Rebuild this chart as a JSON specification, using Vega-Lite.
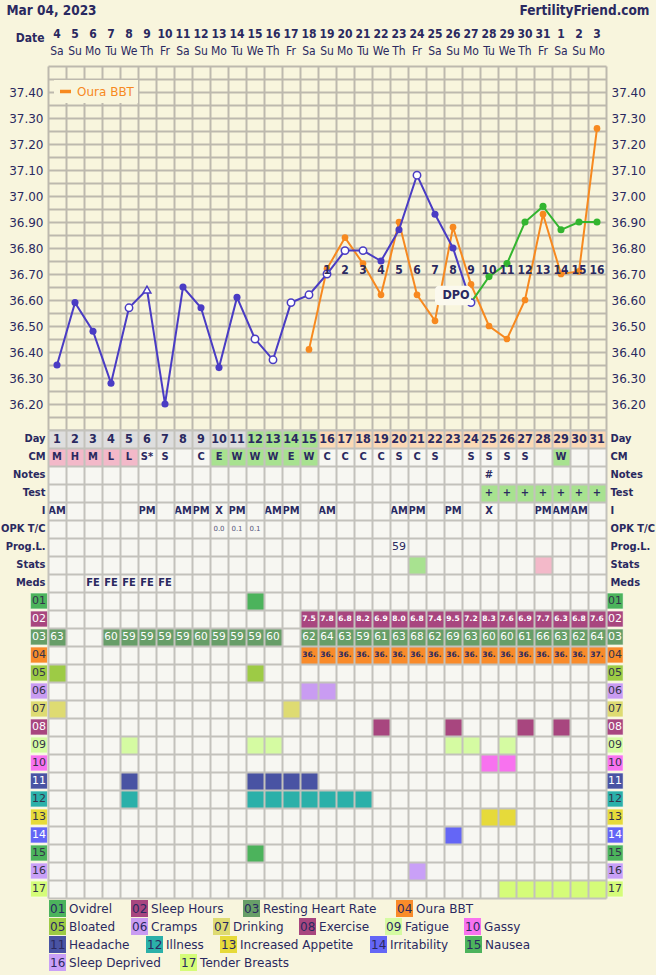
{
"$schema": "https://vega.github.io/schema/vega-lite/v6.json",
"width": 594, "height": 832,
"autosize": {"type": "none"},
"padding": {"left": 30, "top": 66, "right": 32, "bottom": 77},
"background": "#f8f5dd",
"config": {"view": {"stroke": null}, "font": "DejaVu Sans"},
"datasets": {
"days": [
{"day":1,"phase":"pre"},{"day":2,"phase":"pre"},{"day":3,"phase":"pre"},{"day":4,"phase":"pre"},{"day":5,"phase":"pre"},{"day":6,"phase":"pre"},{"day":7,"phase":"pre"},{"day":8,"phase":"pre"},{"day":9,"phase":"pre"},{"day":10,"phase":"pre"},{"day":11,"phase":"pre"},
{"day":12,"phase":"fert"},{"day":13,"phase":"fert"},{"day":14,"phase":"fert"},{"day":15,"phase":"fert"},
{"day":16,"phase":"post","dpo":1},{"day":17,"phase":"post","dpo":2},{"day":18,"phase":"post","dpo":3},{"day":19,"phase":"post","dpo":4},{"day":20,"phase":"post","dpo":5},{"day":21,"phase":"post","dpo":6},{"day":22,"phase":"post","dpo":7},{"day":23,"phase":"post","dpo":8},{"day":24,"phase":"post","dpo":9},{"day":25,"phase":"post","dpo":10},{"day":26,"phase":"post","dpo":11},{"day":27,"phase":"post","dpo":12},{"day":28,"phase":"post","dpo":13},{"day":29,"phase":"post","dpo":14},{"day":30,"phase":"post","dpo":15},{"day":31,"phase":"post","dpo":16}
],
"bbt": [
{"day":1,"temp":36.35,"marker":"filled"},{"day":2,"temp":36.59,"marker":"filled"},{"day":3,"temp":36.48,"marker":"filled"},{"day":4,"temp":36.28,"marker":"filled"},{"day":5,"temp":36.57,"marker":"open"},{"day":6,"temp":36.64,"marker":"triangle"},{"day":7,"temp":36.2,"marker":"filled"},{"day":8,"temp":36.65,"marker":"filled"},{"day":9,"temp":36.57,"marker":"filled"},{"day":10,"temp":36.34,"marker":"filled"},{"day":11,"temp":36.61,"marker":"filled"},{"day":12,"temp":36.45,"marker":"open"},{"day":13,"temp":36.37,"marker":"open"},{"day":14,"temp":36.59,"marker":"open"},{"day":15,"temp":36.62,"marker":"open"},{"day":16,"temp":36.7,"marker":"open"},{"day":17,"temp":36.79,"marker":"open"},{"day":18,"temp":36.79,"marker":"open"},{"day":19,"temp":36.75,"marker":"filled"},{"day":20,"temp":36.87,"marker":"filled"},{"day":21,"temp":37.08,"marker":"open"},{"day":22,"temp":36.93,"marker":"filled"},{"day":23,"temp":36.8,"marker":"filled"},{"day":24,"temp":36.59,"marker":"open"},
{"day":25,"temp":36.69,"marker":"green"},{"day":26,"temp":36.74,"marker":"green"},{"day":27,"temp":36.9,"marker":"green"},{"day":28,"temp":36.96,"marker":"green"},{"day":29,"temp":36.87,"marker":"green"},{"day":30,"temp":36.9,"marker":"green"},{"day":31,"temp":36.9,"marker":"green"}
],
"oura": [
{"day":15,"temp":36.41},{"day":16,"temp":36.72},{"day":17,"temp":36.84},{"day":18,"temp":36.74},{"day":19,"temp":36.62},{"day":20,"temp":36.9},{"day":21,"temp":36.62},{"day":22,"temp":36.52},{"day":23,"temp":36.88},{"day":24,"temp":36.66},{"day":25,"temp":36.5},{"day":26,"temp":36.45},{"day":27,"temp":36.6},{"day":28,"temp":36.93},{"day":29,"temp":36.7},{"day":30,"temp":36.71},{"day":31,"temp":37.26}
],
"dpoLabel": [{"label":"DPO"}],
"notes": [
{"day":1,"row":"CM","t":"M"},{"day":2,"row":"CM","t":"H"},{"day":3,"row":"CM","t":"M"},{"day":4,"row":"CM","t":"L"},{"day":5,"row":"CM","t":"L"},{"day":6,"row":"CM","t":"S*"},{"day":7,"row":"CM","t":"S"},{"day":9,"row":"CM","t":"C"},{"day":10,"row":"CM","t":"E"},{"day":11,"row":"CM","t":"W"},{"day":12,"row":"CM","t":"W"},{"day":13,"row":"CM","t":"W"},{"day":14,"row":"CM","t":"E"},{"day":15,"row":"CM","t":"W"},{"day":16,"row":"CM","t":"C"},{"day":17,"row":"CM","t":"C"},{"day":18,"row":"CM","t":"C"},{"day":19,"row":"CM","t":"C"},{"day":20,"row":"CM","t":"S"},{"day":21,"row":"CM","t":"C"},{"day":22,"row":"CM","t":"S"},{"day":24,"row":"CM","t":"S"},{"day":25,"row":"CM","t":"S"},{"day":26,"row":"CM","t":"S"},{"day":27,"row":"CM","t":"S"},{"day":29,"row":"CM","t":"W"},
{"day":25,"row":"Notes","t":"#"},
{"day":25,"row":"Test","t":"+"},{"day":26,"row":"Test","t":"+"},{"day":27,"row":"Test","t":"+"},{"day":28,"row":"Test","t":"+"},{"day":29,"row":"Test","t":"+"},{"day":30,"row":"Test","t":"+"},{"day":31,"row":"Test","t":"+"},
{"day":1,"row":"I","t":"AM"},{"day":6,"row":"I","t":"PM"},{"day":8,"row":"I","t":"AM"},{"day":9,"row":"I","t":"PM"},{"day":10,"row":"I","t":"X"},{"day":11,"row":"I","t":"PM"},{"day":13,"row":"I","t":"AM"},{"day":14,"row":"I","t":"PM"},{"day":16,"row":"I","t":"AM"},{"day":20,"row":"I","t":"AM"},{"day":21,"row":"I","t":"PM"},{"day":23,"row":"I","t":"PM"},{"day":25,"row":"I","t":"X"},{"day":28,"row":"I","t":"PM"},{"day":29,"row":"I","t":"AM"},{"day":30,"row":"I","t":"AM"},
{"day":10,"row":"OPK T/C","t":"0.0"},{"day":11,"row":"OPK T/C","t":"0.1"},{"day":12,"row":"OPK T/C","t":"0.1"},
{"day":20,"row":"Prog.L.","t":"59"},
{"day":3,"row":"Meds","t":"FE"},{"day":4,"row":"Meds","t":"FE"},{"day":5,"row":"Meds","t":"FE"},{"day":6,"row":"Meds","t":"FE"},{"day":7,"row":"Meds","t":"FE"}
],
"bg": [
{"day":1,"row":"CM","kind":"pink"},{"day":2,"row":"CM","kind":"pink"},{"day":3,"row":"CM","kind":"pink"},{"day":4,"row":"CM","kind":"pink"},{"day":5,"row":"CM","kind":"pink"},
{"day":10,"row":"CM","kind":"green"},{"day":11,"row":"CM","kind":"green"},{"day":12,"row":"CM","kind":"green"},{"day":13,"row":"CM","kind":"green"},{"day":14,"row":"CM","kind":"green"},{"day":15,"row":"CM","kind":"green"},{"day":29,"row":"CM","kind":"green"},
{"day":25,"row":"Test","kind":"green"},{"day":26,"row":"Test","kind":"green"},{"day":27,"row":"Test","kind":"green"},{"day":28,"row":"Test","kind":"green"},{"day":29,"row":"Test","kind":"green"},{"day":30,"row":"Test","kind":"green"},{"day":31,"row":"Test","kind":"green"},
{"day":21,"row":"Stats","kind":"green"},{"day":28,"row":"Stats","kind":"pink"}
],
"sym": [
{"day":12,"row":"01"},
{"day":15,"row":"02","v":"7.5"},{"day":16,"row":"02","v":"7.8"},{"day":17,"row":"02","v":"6.8"},{"day":18,"row":"02","v":"8.2"},{"day":19,"row":"02","v":"6.9"},{"day":20,"row":"02","v":"8.0"},{"day":21,"row":"02","v":"6.8"},{"day":22,"row":"02","v":"7.4"},{"day":23,"row":"02","v":"9.5"},{"day":24,"row":"02","v":"7.2"},{"day":25,"row":"02","v":"8.3"},{"day":26,"row":"02","v":"7.6"},{"day":27,"row":"02","v":"6.9"},{"day":28,"row":"02","v":"7.7"},{"day":29,"row":"02","v":"6.3"},{"day":30,"row":"02","v":"6.8"},{"day":31,"row":"02","v":"7.6"},
{"day":1,"row":"03","v":"63"},{"day":4,"row":"03","v":"60"},{"day":5,"row":"03","v":"59"},{"day":6,"row":"03","v":"59"},{"day":7,"row":"03","v":"59"},{"day":8,"row":"03","v":"59"},{"day":9,"row":"03","v":"60"},{"day":10,"row":"03","v":"59"},{"day":11,"row":"03","v":"59"},{"day":12,"row":"03","v":"59"},{"day":13,"row":"03","v":"60"},{"day":15,"row":"03","v":"62"},{"day":16,"row":"03","v":"64"},{"day":17,"row":"03","v":"63"},{"day":18,"row":"03","v":"59"},{"day":19,"row":"03","v":"61"},{"day":20,"row":"03","v":"63"},{"day":21,"row":"03","v":"68"},{"day":22,"row":"03","v":"62"},{"day":23,"row":"03","v":"69"},{"day":24,"row":"03","v":"63"},{"day":25,"row":"03","v":"60"},{"day":26,"row":"03","v":"60"},{"day":27,"row":"03","v":"61"},{"day":28,"row":"03","v":"66"},{"day":29,"row":"03","v":"63"},{"day":30,"row":"03","v":"62"},{"day":31,"row":"03","v":"64"},
{"day":15,"row":"04","v":"36."},{"day":16,"row":"04","v":"36."},{"day":17,"row":"04","v":"36."},{"day":18,"row":"04","v":"36."},{"day":19,"row":"04","v":"36."},{"day":20,"row":"04","v":"36."},{"day":21,"row":"04","v":"36."},{"day":22,"row":"04","v":"36."},{"day":23,"row":"04","v":"36."},{"day":24,"row":"04","v":"36."},{"day":25,"row":"04","v":"36."},{"day":26,"row":"04","v":"36."},{"day":27,"row":"04","v":"36."},{"day":28,"row":"04","v":"36."},{"day":29,"row":"04","v":"36."},{"day":30,"row":"04","v":"36."},{"day":31,"row":"04","v":"37."},
{"day":1,"row":"05"},{"day":12,"row":"05"},
{"day":15,"row":"06"},{"day":16,"row":"06"},
{"day":1,"row":"07"},{"day":14,"row":"07"},
{"day":19,"row":"08"},{"day":23,"row":"08"},{"day":27,"row":"08"},{"day":29,"row":"08"},
{"day":5,"row":"09"},{"day":12,"row":"09"},{"day":13,"row":"09"},{"day":23,"row":"09"},{"day":24,"row":"09"},{"day":26,"row":"09"},
{"day":25,"row":"10"},{"day":26,"row":"10"},
{"day":5,"row":"11"},{"day":12,"row":"11"},{"day":13,"row":"11"},{"day":14,"row":"11"},{"day":15,"row":"11"},
{"day":5,"row":"12"},{"day":12,"row":"12"},{"day":13,"row":"12"},{"day":14,"row":"12"},{"day":15,"row":"12"},{"day":16,"row":"12"},{"day":17,"row":"12"},{"day":18,"row":"12"},
{"day":25,"row":"13"},{"day":26,"row":"13"},
{"day":23,"row":"14"},
{"day":12,"row":"15"},
{"day":21,"row":"16"},
{"day":26,"row":"17"},{"day":27,"row":"17"},{"day":28,"row":"17"},{"day":29,"row":"17"},{"day":30,"row":"17"},{"day":31,"row":"17"}
],
"syms": [
{"row":"01","name":"Ovidrel"},{"row":"02","name":"Sleep Hours"},{"row":"03","name":"Resting Heart Rate"},{"row":"04","name":"Oura BBT"},{"row":"05","name":"Bloated"},{"row":"06","name":"Cramps"},{"row":"07","name":"Drinking"},{"row":"08","name":"Exercise"},{"row":"09","name":"Fatigue"},{"row":"10","name":"Gassy"},{"row":"11","name":"Headache"},{"row":"12","name":"Illness"},{"row":"13","name":"Increased Appetite"},{"row":"14","name":"Irritability"},{"row":"15","name":"Nausea"},{"row":"16","name":"Sleep Deprived"},{"row":"17","name":"Tender Breasts"}
]
},
"layer": [
{
"layer": [
{"mark": {"type": "rule", "color": "#dc5a5a", "strokeWidth": 2.6, "strokeDash": [5, 3]},
 "encoding": {
  "x": {"datum": 1, "type": "ordinal", "bandPosition": 0, "scale": {"type": "band", "domain": [1,2,3,4,5,6,7,8,9,10,11,12,13,14,15,16,17,18,19,20,21,22,23,24,25,26,27,28,29,30,31], "range": [18, 576], "paddingInner": 0, "paddingOuter": 0}, "axis": null},
  "x2": {"datum": 31, "bandPosition": 1},
  "y": {"datum": 36.675, "type": "quantitative", "scale": {"domain": [36.1, 37.5], "range": [364, 0], "zero": false, "nice": false},
   "axis": {"orient": "left", "offset": -18, "values": [36.1,36.15,36.2,36.25,36.3,36.35,36.4,36.45,36.5,36.55,36.6,36.65,36.7,36.75,36.8,36.85,36.9,36.95,37,37.05,37.1,37.15,37.2,37.25,37.3,37.35,37.4,37.45,37.5],
    "labelExpr": "datum.value > 36.15 && datum.value < 37.45 && round(datum.value*100) % 10 == 0 ? format(datum.value, '.2f') : ''",
    "grid": true, "gridColor": "#bdb9ae", "gridWidth": 2, "ticks": false, "domain": false, "labelPadding": 5, "labelFont": "DejaVu Sans", "labelFontSize": 12, "labelColor": "#2a2960", "title": null}}
 }},
{"mark": {"type": "rule", "color": "#dc5a5a", "strokeWidth": 2.6, "strokeDash": [5, 3]},
 "encoding": {
  "x": {"datum": 15, "type": "ordinal", "bandPosition": 0.5, "scale": {"type": "band", "domain": [1,2,3,4,5,6,7,8,9,10,11,12,13,14,15,16,17,18,19,20,21,22,23,24,25,26,27,28,29,30,31], "range": [18, 576], "paddingInner": 0, "paddingOuter": 0}, "axis": null},
  "y": {"datum": 37.5, "type": "quantitative", "scale": {"domain": [36.1, 37.5], "range": [364, 0], "zero": false, "nice": false},
   "axis": {"orient": "right", "offset": -18, "values": [36.2,36.3,36.4,36.5,36.6,36.7,36.8,36.9,37,37.1,37.2,37.3,37.4], "format": ".2f", "grid": false, "ticks": false, "domain": true, "domainColor": "#bdb9ae", "domainWidth": 2, "labelPadding": 5, "labelFont": "DejaVu Sans", "labelFontSize": 12, "labelColor": "#2a2960", "title": null}},
  "y2": {"datum": 36.1}
 }},
{"data": {"name": "oura"}, "mark": {"type": "line", "strokeWidth": 2},
 "encoding": {
  "x": {"field": "day", "type": "ordinal", "scale": {"type": "band", "domain": [1,2,3,4,5,6,7,8,9,10,11,12,13,14,15,16,17,18,19,20,21,22,23,24,25,26,27,28,29,30,31], "range": [18, 576], "paddingInner": 0, "paddingOuter": 0},
   "axis": {"orient": "top", "values": [1,2,3,4,5,6,7,8,9,10,11,12,13,14,15,16,17,18,19,20,21,22,23,24,25,26,27,28,29,30,31], "bandPosition": 0, "grid": true, "gridColor": "#bdb9ae", "gridWidth": 2, "labels": false, "ticks": false, "domain": false,
    "title": "Mar 04, 2023", "titleX": -24, "titleY": -56, "titleAlign": "left", "titleBaseline": "middle", "titleFont": "DejaVu Sans Condensed, DejaVu Sans", "titleFontSize": 13.5, "titleFontWeight": "bold", "titleColor": "#2a2960"}},
  "y": {"field": "temp", "type": "quantitative", "scale": {"domain": [36.1, 37.5], "range": [364, 0], "zero": false, "nice": false}, "axis": null},
  "color": {"datum": "Oura BBT", "type": "nominal", "scale": {"range": ["#f7891f"]},
   "legend": {"orient": "none", "legendX": 24, "legendY": 14, "title": null, "symbolType": "stroke", "symbolStrokeWidth": 3.5, "symbolSize": 120, "labelFont": "DejaVu Sans", "labelFontSize": 12, "labelColor": "#f7891f", "labelOffset": 4, "fillColor": "#f8f5dd", "padding": 4}}
 }},
{"data": {"name": "oura"}, "mark": {"type": "point", "filled": true, "color": "#f7891f", "size": 45, "opacity": 1},
 "encoding": {
  "x": {"field": "day", "type": "ordinal", "scale": {"type": "band", "domain": [1,2,3,4,5,6,7,8,9,10,11,12,13,14,15,16,17,18,19,20,21,22,23,24,25,26,27,28,29,30,31], "range": [18, 576], "paddingInner": 0, "paddingOuter": 0}, "axis": null},
  "y": {"field": "temp", "type": "quantitative", "scale": {"domain": [36.1, 37.5], "range": [364, 0], "zero": false, "nice": false}, "axis": null}
 }},
{"data": {"name": "bbt"}, "transform": [{"filter": "datum.day <= 24"}], "mark": {"type": "line", "color": "#4a3cc4", "strokeWidth": 2},
 "encoding": {
  "x": {"field": "day", "type": "ordinal", "scale": {"type": "band", "domain": [1,2,3,4,5,6,7,8,9,10,11,12,13,14,15,16,17,18,19,20,21,22,23,24,25,26,27,28,29,30,31], "range": [18, 576], "paddingInner": 0, "paddingOuter": 0},
   "axis": {"orient": "top", "labelExpr": "['4','5','6','7','8','9','10','11','12','13','14','15','16','17','18','19','20','21','22','23','24','25','26','27','28','29','30','31','1','2','3'][datum.value-1]",
    "labelFont": "DejaVu Sans Condensed, DejaVu Sans", "labelFontWeight": "bold", "labelFontSize": 12, "labelColor": "#2a2960", "labelBaseline": "middle", "labelPadding": 33, "labelAngle": 0, "labelOverlap": false, "ticks": false, "tickSize": 0, "domain": false, "grid": false,
    "title": "Date", "titleX": 14, "titleY": -28.5, "titleAlign": "right", "titleBaseline": "middle", "titleFont": "DejaVu Sans Condensed, DejaVu Sans", "titleFontSize": 12, "titleFontWeight": "bold", "titleColor": "#2a2960"}},
  "y": {"field": "temp", "type": "quantitative", "scale": {"domain": [36.1, 37.5], "range": [364, 0], "zero": false, "nice": false}, "axis": null}
 }},
{"data": {"name": "bbt"}, "transform": [{"filter": "datum.day >= 24"}], "mark": {"type": "line", "color": "#33b52f", "strokeWidth": 2},
 "encoding": {
  "x": {"field": "day", "type": "ordinal", "scale": {"type": "band", "domain": [1,2,3,4,5,6,7,8,9,10,11,12,13,14,15,16,17,18,19,20,21,22,23,24,25,26,27,28,29,30,31], "range": [18, 576], "paddingInner": 0, "paddingOuter": 0},
   "axis": {"orient": "top", "labelExpr": "['Sa','Su','Mo','Tu','We','Th','Fr','Sa','Su','Mo','Tu','We','Th','Fr','Sa','Su','Mo','Tu','We','Th','Fr','Sa','Su','Mo','Tu','We','Th','Fr','Sa','Su','Mo'][datum.value-1]",
    "labelFont": "DejaVu Sans Condensed, DejaVu Sans", "labelFontSize": 12, "labelColor": "#2a2960", "labelBaseline": "middle", "labelPadding": 15.5, "labelAngle": 0, "labelOverlap": false, "ticks": false, "tickSize": 0, "domain": false, "grid": false,
    "title": "FertilityFriend.com", "titleX": 619, "titleY": -56, "titleAlign": "right", "titleBaseline": "middle", "titleFont": "DejaVu Sans Condensed, DejaVu Sans", "titleFontSize": 13.5, "titleFontWeight": "bold", "titleColor": "#2a2960"}},
  "y": {"field": "temp", "type": "quantitative", "scale": {"domain": [36.1, 37.5], "range": [364, 0], "zero": false, "nice": false}, "axis": null}
 }},
{"data": {"name": "bbt"}, "transform": [{"filter": "datum.marker == 'filled'"}], "mark": {"type": "point", "filled": true, "color": "#4a3cc4", "size": 50, "opacity": 1},
 "encoding": {
  "x": {"field": "day", "type": "ordinal", "scale": {"type": "band", "domain": [1,2,3,4,5,6,7,8,9,10,11,12,13,14,15,16,17,18,19,20,21,22,23,24,25,26,27,28,29,30,31], "range": [18, 576], "paddingInner": 0, "paddingOuter": 0}, "axis": null},
  "y": {"field": "temp", "type": "quantitative", "scale": {"domain": [36.1, 37.5], "range": [364, 0], "zero": false, "nice": false}, "axis": null}
 }},
{"data": {"name": "bbt"}, "transform": [{"filter": "datum.marker == 'open'"}], "mark": {"type": "point", "filled": true, "fill": "#ffffff", "stroke": "#4a3cc4", "strokeWidth": 1.5, "size": 55, "opacity": 1},
 "encoding": {
  "x": {"field": "day", "type": "ordinal", "scale": {"type": "band", "domain": [1,2,3,4,5,6,7,8,9,10,11,12,13,14,15,16,17,18,19,20,21,22,23,24,25,26,27,28,29,30,31], "range": [18, 576], "paddingInner": 0, "paddingOuter": 0}, "axis": null},
  "y": {"field": "temp", "type": "quantitative", "scale": {"domain": [36.1, 37.5], "range": [364, 0], "zero": false, "nice": false}, "axis": null}
 }},
{"data": {"name": "bbt"}, "transform": [{"filter": "datum.marker == 'triangle'"}], "mark": {"type": "point", "shape": "triangle-up", "filled": true, "fill": "#ffffff", "stroke": "#4a3cc4", "strokeWidth": 1.5, "size": 60, "opacity": 1},
 "encoding": {
  "x": {"field": "day", "type": "ordinal", "scale": {"type": "band", "domain": [1,2,3,4,5,6,7,8,9,10,11,12,13,14,15,16,17,18,19,20,21,22,23,24,25,26,27,28,29,30,31], "range": [18, 576], "paddingInner": 0, "paddingOuter": 0}, "axis": null},
  "y": {"field": "temp", "type": "quantitative", "scale": {"domain": [36.1, 37.5], "range": [364, 0], "zero": false, "nice": false}, "axis": null}
 }},
{"data": {"name": "bbt"}, "transform": [{"filter": "datum.marker == 'green'"}], "mark": {"type": "point", "filled": true, "color": "#33b52f", "size": 50, "opacity": 1},
 "encoding": {
  "x": {"field": "day", "type": "ordinal", "scale": {"type": "band", "domain": [1,2,3,4,5,6,7,8,9,10,11,12,13,14,15,16,17,18,19,20,21,22,23,24,25,26,27,28,29,30,31], "range": [18, 576], "paddingInner": 0, "paddingOuter": 0}, "axis": null},
  "y": {"field": "temp", "type": "quantitative", "scale": {"domain": [36.1, 37.5], "range": [364, 0], "zero": false, "nice": false}, "axis": null}
 }},
{"data": {"name": "dpoLabel"}, "mark": {"type": "rect", "fill": "#fbf9ee", "cornerRadius": 4, "width": 36},
 "encoding": {
  "x": {"datum": 23, "type": "ordinal", "scale": {"type": "band", "domain": [1,2,3,4,5,6,7,8,9,10,11,12,13,14,15,16,17,18,19,20,21,22,23,24,25,26,27,28,29,30,31], "range": [18, 576], "paddingInner": 0, "paddingOuter": 0}, "axis": null},
  "y": {"datum": 36.655, "type": "quantitative", "scale": {"domain": [36.1, 37.5], "range": [364, 0], "zero": false, "nice": false}, "axis": null},
  "y2": {"datum": 36.58}
 }},
{"data": {"name": "dpoLabel"}, "mark": {"type": "text", "font": "DejaVu Sans Condensed, DejaVu Sans", "fontWeight": "bold", "fontSize": 12.5, "color": "#2a2960", "dx": 3},
 "encoding": {
  "x": {"datum": 23, "type": "ordinal", "scale": {"type": "band", "domain": [1,2,3,4,5,6,7,8,9,10,11,12,13,14,15,16,17,18,19,20,21,22,23,24,25,26,27,28,29,30,31], "range": [18, 576], "paddingInner": 0, "paddingOuter": 0}, "axis": null},
  "y": {"datum": 36.618, "type": "quantitative", "scale": {"domain": [36.1, 37.5], "range": [364, 0], "zero": false, "nice": false}, "axis": null},
  "text": {"field": "label"}
 }},
{"data": {"name": "days"}, "transform": [{"filter": "isValid(datum.dpo)"}], "mark": {"type": "text", "font": "DejaVu Sans Condensed, DejaVu Sans", "fontWeight": "bold", "fontSize": 12, "color": "#2a2960"},
 "encoding": {
  "x": {"field": "day", "type": "ordinal", "scale": {"type": "band", "domain": [1,2,3,4,5,6,7,8,9,10,11,12,13,14,15,16,17,18,19,20,21,22,23,24,25,26,27,28,29,30,31], "range": [18, 576], "paddingInner": 0, "paddingOuter": 0}, "axis": null},
  "y": {"datum": 36.716, "type": "quantitative", "scale": {"domain": [36.1, 37.5], "range": [364, 0], "zero": false, "nice": false}, "axis": null},
  "text": {"field": "dpo"}
 }}
],
"resolve": {"axis": {"x": "independent", "y": "independent"}}
},
{
"layer": [
{
"layer": [
{"data": {"name": "days"}, "mark": {"type": "rect"},
 "encoding": {
  "x": {"field": "day", "type": "ordinal", "scale": {"type": "band", "domain": [1,2,3,4,5,6,7,8,9,10,11,12,13,14,15,16,17,18,19,20,21,22,23,24,25,26,27,28,29,30,31], "range": [18, 576], "paddingInner": 0, "paddingOuter": 0},
   "axis": {"orient": "top", "values": [1,2,3,4,5,6,7,8,9,10,11,12,13,14,15,16,17,18,19,20,21,22,23,24,25,26,27,28,29,30,31], "bandPosition": 0.5, "grid": true, "gridColor": "#f7f7f2", "gridWidth": 18, "labels": false, "ticks": false, "domain": false, "zindex": 0, "title": null}},
  "y": {"datum": "Day", "type": "nominal", "scale": {"type": "band", "domain": ["Day","CM","Notes","Test","I","OPK T/C","Prog.L.","Stats","Meds","01","02","03","04","05","06","07","08","09","10","11","12","13","14","15","16","17"], "range": [364, 832], "paddingInner": 0, "paddingOuter": 0},
   "axis": {"orient": "right", "offset": -18, "values": ["Day","CM","Notes","Test","I","OPK T/C","Prog.L.","Stats","Meds"], "labelPadding": 4, "ticks": false, "domain": true, "domainColor": "#c3c2bc", "domainWidth": 2, "grid": false, "zindex": 1, "labelFont": "DejaVu Sans Condensed, DejaVu Sans", "labelFontWeight": "bold", "labelFontSize": 11, "labelColor": "#2a2960", "title": null}},
  "fill": {"field": "phase", "type": "nominal", "scale": {"domain": ["pre", "fert", "post"], "range": ["#dedede", "#a8e290", "#fcd9b5"]}, "legend": null}
 }},
{"data": {"name": "bg"}, "mark": {"type": "rect"},
 "encoding": {
  "x": {"field": "day", "type": "ordinal", "scale": {"type": "band", "domain": [1,2,3,4,5,6,7,8,9,10,11,12,13,14,15,16,17,18,19,20,21,22,23,24,25,26,27,28,29,30,31], "range": [18, 576], "paddingInner": 0, "paddingOuter": 0},
   "axis": {"orient": "bottom", "labels": false, "ticks": false, "domain": true, "domainColor": "#c3c2bc", "domainWidth": 2, "grid": false, "zindex": 1, "title": null}},
  "y": {"field": "row", "type": "nominal", "scale": {"type": "band", "domain": ["Day","CM","Notes","Test","I","OPK T/C","Prog.L.","Stats","Meds","01","02","03","04","05","06","07","08","09","10","11","12","13","14","15","16","17"], "range": [364, 832], "paddingInner": 0, "paddingOuter": 0},
   "axis": {"orient": "left", "offset": -18, "values": ["Day","CM","Notes","Test","I","OPK T/C","Prog.L.","Stats","Meds"], "labelPadding": 3, "ticks": false, "domain": false, "grid": false, "labelFont": "DejaVu Sans Condensed, DejaVu Sans", "labelFontWeight": "bold", "labelFontSize": 11, "labelColor": "#2a2960", "title": null}},
  "fill": {"field": "kind", "type": "nominal", "scale": {"domain": ["pink", "green"], "range": ["#f3b9c9", "#a8e290"]}, "legend": null}
 }},
{"data": {"name": "sym"}, "transform": [{"filter": {"field": "row", "oneOf": ["01","02","03","04"]}}], "mark": {"type": "rect"},
 "encoding": {
  "x": {"field": "day", "type": "ordinal", "scale": {"type": "band", "domain": [1,2,3,4,5,6,7,8,9,10,11,12,13,14,15,16,17,18,19,20,21,22,23,24,25,26,27,28,29,30,31], "range": [18, 576], "paddingInner": 0, "paddingOuter": 0}, "axis": null},
  "y": {"field": "row", "type": "nominal", "scale": {"type": "band", "domain": ["Day","CM","Notes","Test","I","OPK T/C","Prog.L.","Stats","Meds","01","02","03","04","05","06","07","08","09","10","11","12","13","14","15","16","17"], "range": [364, 832], "paddingInner": 0, "paddingOuter": 0}, "axis": null},
  "fill": {"field": "row", "type": "nominal", "scale": {"domain": ["01","02","03","04"], "range": ["#4cb35c","#a8467f","#679e68","#f98b2a"]},
   "legend": {"orient": "none", "legendX": 19, "legendY": 834, "direction": "horizontal", "title": null, "symbolType": "square", "symbolSize": 289, "symbolStrokeWidth": 0, "labelExpr": "datum.label + ' ' + ['Ovidrel','Sleep Hours','Resting Heart Rate','Oura BBT','Bloated','Cramps','Drinking','Exercise','Fatigue','Gassy','Headache','Illness','Increased Appetite','Irritability','Nausea','Sleep Deprived','Tender Breasts'][toNumber(datum.label)-1]", "labelOffset": -16, "labelFont": "DejaVu Sans", "labelFontSize": 12, "labelColor": "#2a2960", "columnPadding": 19, "padding": 0, "labelLimit": 0}}
 }},
{"data": {"name": "sym"}, "transform": [{"filter": {"field": "row", "oneOf": ["05","06","07","08","09","10"]}}], "mark": {"type": "rect"},
 "encoding": {
  "x": {"field": "day", "type": "ordinal", "scale": {"type": "band", "domain": [1,2,3,4,5,6,7,8,9,10,11,12,13,14,15,16,17,18,19,20,21,22,23,24,25,26,27,28,29,30,31], "range": [18, 576], "paddingInner": 0, "paddingOuter": 0}, "axis": null},
  "y": {"field": "row", "type": "nominal", "scale": {"type": "band", "domain": ["Day","CM","Notes","Test","I","OPK T/C","Prog.L.","Stats","Meds","01","02","03","04","05","06","07","08","09","10","11","12","13","14","15","16","17"], "range": [364, 832], "paddingInner": 0, "paddingOuter": 0}, "axis": null},
  "fill": {"field": "row", "type": "nominal", "scale": {"domain": ["05","06","07","08","09","10"], "range": ["#9dcb45","#c99cf2","#dedb72","#a8467f","#d5fba2","#f872ef"]},
   "legend": {"orient": "none", "legendX": 19, "legendY": 852, "direction": "horizontal", "title": null, "symbolType": "square", "symbolSize": 289, "symbolStrokeWidth": 0, "labelExpr": "datum.label + ' ' + ['Ovidrel','Sleep Hours','Resting Heart Rate','Oura BBT','Bloated','Cramps','Drinking','Exercise','Fatigue','Gassy','Headache','Illness','Increased Appetite','Irritability','Nausea','Sleep Deprived','Tender Breasts'][toNumber(datum.label)-1]", "labelOffset": -16, "labelFont": "DejaVu Sans", "labelFontSize": 12, "labelColor": "#2a2960", "columnPadding": 15, "padding": 0, "labelLimit": 0}}
 }},
{"data": {"name": "sym"}, "transform": [{"filter": {"field": "row", "oneOf": ["11","12","13","14","15"]}}], "mark": {"type": "rect"},
 "encoding": {
  "x": {"field": "day", "type": "ordinal", "scale": {"type": "band", "domain": [1,2,3,4,5,6,7,8,9,10,11,12,13,14,15,16,17,18,19,20,21,22,23,24,25,26,27,28,29,30,31], "range": [18, 576], "paddingInner": 0, "paddingOuter": 0}, "axis": null},
  "y": {"field": "row", "type": "nominal", "scale": {"type": "band", "domain": ["Day","CM","Notes","Test","I","OPK T/C","Prog.L.","Stats","Meds","01","02","03","04","05","06","07","08","09","10","11","12","13","14","15","16","17"], "range": [364, 832], "paddingInner": 0, "paddingOuter": 0}, "axis": null},
  "fill": {"field": "row", "type": "nominal", "scale": {"domain": ["11","12","13","14","15"], "range": ["#4953a3","#2bb0a9","#e6da3a","#6466f6","#4cb35c"]},
   "legend": {"orient": "none", "legendX": 19, "legendY": 870, "direction": "horizontal", "title": null, "symbolType": "square", "symbolSize": 289, "symbolStrokeWidth": 0, "labelExpr": "datum.label + ' ' + ['Ovidrel','Sleep Hours','Resting Heart Rate','Oura BBT','Bloated','Cramps','Drinking','Exercise','Fatigue','Gassy','Headache','Illness','Increased Appetite','Irritability','Nausea','Sleep Deprived','Tender Breasts'][toNumber(datum.label)-1]", "labelOffset": -16, "labelFont": "DejaVu Sans", "labelFontSize": 12, "labelColor": "#2a2960", "columnPadding": 16, "padding": 0, "labelLimit": 0}}
 }},
{"data": {"name": "sym"}, "transform": [{"filter": {"field": "row", "oneOf": ["16","17"]}}], "mark": {"type": "rect"},
 "encoding": {
  "x": {"field": "day", "type": "ordinal", "scale": {"type": "band", "domain": [1,2,3,4,5,6,7,8,9,10,11,12,13,14,15,16,17,18,19,20,21,22,23,24,25,26,27,28,29,30,31], "range": [18, 576], "paddingInner": 0, "paddingOuter": 0}, "axis": null},
  "y": {"field": "row", "type": "nominal", "scale": {"type": "band", "domain": ["Day","CM","Notes","Test","I","OPK T/C","Prog.L.","Stats","Meds","01","02","03","04","05","06","07","08","09","10","11","12","13","14","15","16","17"], "range": [364, 832], "paddingInner": 0, "paddingOuter": 0}, "axis": null},
  "fill": {"field": "row", "type": "nominal", "scale": {"domain": ["16","17"], "range": ["#c9a0f7","#d5fc79"]},
   "legend": {"orient": "none", "legendX": 19, "legendY": 888, "direction": "horizontal", "title": null, "symbolType": "square", "symbolSize": 289, "symbolStrokeWidth": 0, "labelExpr": "datum.label + ' ' + ['Ovidrel','Sleep Hours','Resting Heart Rate','Oura BBT','Bloated','Cramps','Drinking','Exercise','Fatigue','Gassy','Headache','Illness','Increased Appetite','Irritability','Nausea','Sleep Deprived','Tender Breasts'][toNumber(datum.label)-1]", "labelOffset": -16, "labelFont": "DejaVu Sans", "labelFontSize": 12, "labelColor": "#2a2960", "columnPadding": 19, "padding": 0, "labelLimit": 0}}
 }},
{"data": {"name": "days"}, "mark": {"type": "text", "font": "DejaVu Sans Condensed, DejaVu Sans", "fontWeight": "bold", "fontSize": 12.5, "color": "#2a2960"},
 "encoding": {
  "x": {"field": "day", "type": "ordinal", "scale": {"type": "band", "domain": [1,2,3,4,5,6,7,8,9,10,11,12,13,14,15,16,17,18,19,20,21,22,23,24,25,26,27,28,29,30,31], "range": [18, 576], "paddingInner": 0, "paddingOuter": 0},
   "axis": {"orient": "top", "values": [1,2,3,4,5,6,7,8,9,10,11,12,13,14,15,16,17,18,19,20,21,22,23,24,25,26,27,28,29,30,31], "bandPosition": 0, "grid": true, "gridColor": "#c3c2bc", "gridWidth": 2, "labels": false, "ticks": false, "domain": false, "zindex": 1, "title": null}},
  "y": {"datum": "Day", "type": "nominal", "bandPosition": 0.5, "scale": {"type": "band", "domain": ["Day","CM","Notes","Test","I","OPK T/C","Prog.L.","Stats","Meds","01","02","03","04","05","06","07","08","09","10","11","12","13","14","15","16","17"], "range": [364, 832], "paddingInner": 0, "paddingOuter": 0},
   "axis": {"orient": "left", "values": ["Day","CM","Notes","Test","I","OPK T/C","Prog.L.","Stats","Meds","01","02","03","04","05","06","07","08","09","10","11","12","13","14","15","16","17"], "bandPosition": 0, "grid": true, "gridColor": "#c3c2bc", "gridWidth": 2, "labels": false, "ticks": false, "domain": false, "zindex": 1, "title": null}},
  "text": {"field": "day"}
 }},
{"data": {"name": "notes"}, "transform": [{"filter": {"field": "row", "oneOf": ["CM","Notes","Test","I","Meds"]}}], "mark": {"type": "text", "font": "DejaVu Sans Condensed, DejaVu Sans", "fontWeight": "bold", "fontSize": 11, "color": "#2a2960"},
 "encoding": {
  "x": {"field": "day", "type": "ordinal", "scale": {"type": "band", "domain": [1,2,3,4,5,6,7,8,9,10,11,12,13,14,15,16,17,18,19,20,21,22,23,24,25,26,27,28,29,30,31], "range": [18, 576], "paddingInner": 0, "paddingOuter": 0}, "axis": null},
  "y": {"field": "row", "type": "nominal", "scale": {"type": "band", "domain": ["Day","CM","Notes","Test","I","OPK T/C","Prog.L.","Stats","Meds","01","02","03","04","05","06","07","08","09","10","11","12","13","14","15","16","17"], "range": [364, 832], "paddingInner": 0, "paddingOuter": 0}, "axis": null},
  "text": {"field": "t"}
 }},
{"data": {"name": "notes"}, "transform": [{"filter": "datum.row == 'OPK T/C'"}], "mark": {"type": "text", "font": "DejaVu Sans", "fontSize": 7, "color": "#55557a"},
 "encoding": {
  "x": {"field": "day", "type": "ordinal", "scale": {"type": "band", "domain": [1,2,3,4,5,6,7,8,9,10,11,12,13,14,15,16,17,18,19,20,21,22,23,24,25,26,27,28,29,30,31], "range": [18, 576], "paddingInner": 0, "paddingOuter": 0}, "axis": null},
  "y": {"field": "row", "type": "nominal", "scale": {"type": "band", "domain": ["Day","CM","Notes","Test","I","OPK T/C","Prog.L.","Stats","Meds","01","02","03","04","05","06","07","08","09","10","11","12","13","14","15","16","17"], "range": [364, 832], "paddingInner": 0, "paddingOuter": 0}, "axis": null},
  "text": {"field": "t"}
 }},
{"data": {"name": "notes"}, "transform": [{"filter": "datum.row == 'Prog.L.'"}], "mark": {"type": "text", "font": "DejaVu Sans", "fontSize": 11, "color": "#2a2960"},
 "encoding": {
  "x": {"field": "day", "type": "ordinal", "scale": {"type": "band", "domain": [1,2,3,4,5,6,7,8,9,10,11,12,13,14,15,16,17,18,19,20,21,22,23,24,25,26,27,28,29,30,31], "range": [18, 576], "paddingInner": 0, "paddingOuter": 0}, "axis": null},
  "y": {"field": "row", "type": "nominal", "scale": {"type": "band", "domain": ["Day","CM","Notes","Test","I","OPK T/C","Prog.L.","Stats","Meds","01","02","03","04","05","06","07","08","09","10","11","12","13","14","15","16","17"], "range": [364, 832], "paddingInner": 0, "paddingOuter": 0}, "axis": null},
  "text": {"field": "t"}
 }},
{"data": {"name": "sym"}, "transform": [{"filter": "datum.row == '02'"}], "mark": {"type": "text", "font": "DejaVu Sans", "fontWeight": "bold", "fontSize": 7.5, "color": "#ffffff"},
 "encoding": {
  "x": {"field": "day", "type": "ordinal", "scale": {"type": "band", "domain": [1,2,3,4,5,6,7,8,9,10,11,12,13,14,15,16,17,18,19,20,21,22,23,24,25,26,27,28,29,30,31], "range": [18, 576], "paddingInner": 0, "paddingOuter": 0}, "axis": null},
  "y": {"field": "row", "type": "nominal", "scale": {"type": "band", "domain": ["Day","CM","Notes","Test","I","OPK T/C","Prog.L.","Stats","Meds","01","02","03","04","05","06","07","08","09","10","11","12","13","14","15","16","17"], "range": [364, 832], "paddingInner": 0, "paddingOuter": 0}, "axis": null},
  "text": {"field": "v"}
 }},
{"data": {"name": "sym"}, "transform": [{"filter": "datum.row == '03'"}], "mark": {"type": "text", "font": "DejaVu Sans", "fontSize": 10.5, "color": "#ffffff"},
 "encoding": {
  "x": {"field": "day", "type": "ordinal", "scale": {"type": "band", "domain": [1,2,3,4,5,6,7,8,9,10,11,12,13,14,15,16,17,18,19,20,21,22,23,24,25,26,27,28,29,30,31], "range": [18, 576], "paddingInner": 0, "paddingOuter": 0}, "axis": null},
  "y": {"field": "row", "type": "nominal", "scale": {"type": "band", "domain": ["Day","CM","Notes","Test","I","OPK T/C","Prog.L.","Stats","Meds","01","02","03","04","05","06","07","08","09","10","11","12","13","14","15","16","17"], "range": [364, 832], "paddingInner": 0, "paddingOuter": 0}, "axis": null},
  "text": {"field": "v"}
 }},
{"data": {"name": "sym"}, "transform": [{"filter": "datum.row == '04'"}], "mark": {"type": "text", "font": "DejaVu Sans", "fontWeight": "bold", "fontSize": 7.5, "color": "#2a2960"},
 "encoding": {
  "x": {"field": "day", "type": "ordinal", "scale": {"type": "band", "domain": [1,2,3,4,5,6,7,8,9,10,11,12,13,14,15,16,17,18,19,20,21,22,23,24,25,26,27,28,29,30,31], "range": [18, 576], "paddingInner": 0, "paddingOuter": 0}, "axis": null},
  "y": {"field": "row", "type": "nominal", "scale": {"type": "band", "domain": ["Day","CM","Notes","Test","I","OPK T/C","Prog.L.","Stats","Meds","01","02","03","04","05","06","07","08","09","10","11","12","13","14","15","16","17"], "range": [364, 832], "paddingInner": 0, "paddingOuter": 0}, "axis": null},
  "text": {"field": "v"}
 }}
],
"resolve": {"scale": {"fill": "independent"}, "axis": {"x": "independent", "y": "independent"}, "legend": {"fill": "independent"}}
},
{
"layer": [
{"data": {"name": "syms"}, "mark": {"type": "rect", "width": {"band": 0.94}, "height": {"band": 0.88}, "stroke": "#ffffff", "strokeOpacity": 0.45, "strokeWidth": 1},
 "encoding": {
  "x": {"datum": "L", "type": "nominal", "scale": {"type": "band", "domain": ["L", "R"], "range": [0, 594], "paddingInner": 0.96875, "paddingOuter": 0}, "axis": null},
  "y": {"field": "row", "type": "nominal", "scale": {"type": "band", "domain": ["Day","CM","Notes","Test","I","OPK T/C","Prog.L.","Stats","Meds","01","02","03","04","05","06","07","08","09","10","11","12","13","14","15","16","17"], "range": [364, 832], "paddingInner": 0, "paddingOuter": 0}, "axis": null},
  "fill": {"field": "row", "type": "nominal", "scale": {"domain": ["01","02","03","04","05","06","07","08","09","10","11","12","13","14","15","16","17"], "range": ["#4cb35c","#a8467f","#679e68","#f98b2a","#9dcb45","#c99cf2","#dedb72","#a8467f","#d5fba2","#f872ef","#4953a3","#2bb0a9","#e6da3a","#6466f6","#4cb35c","#c9a0f7","#d5fc79"]}, "legend": null}
 }},
{"data": {"name": "syms"}, "mark": {"type": "rect", "width": {"band": 0.9}, "height": {"band": 0.88}, "stroke": "#ffffff", "strokeOpacity": 0.45, "strokeWidth": 1},
 "encoding": {
  "x": {"datum": "R", "type": "nominal", "scale": {"type": "band", "domain": ["L", "R"], "range": [0, 594], "paddingInner": 0.96875, "paddingOuter": 0}, "axis": null},
  "y": {"field": "row", "type": "nominal", "scale": {"type": "band", "domain": ["Day","CM","Notes","Test","I","OPK T/C","Prog.L.","Stats","Meds","01","02","03","04","05","06","07","08","09","10","11","12","13","14","15","16","17"], "range": [364, 832], "paddingInner": 0, "paddingOuter": 0}, "axis": null},
  "fill": {"field": "row", "type": "nominal", "scale": {"domain": ["01","02","03","04","05","06","07","08","09","10","11","12","13","14","15","16","17"], "range": ["#4cb35c","#a8467f","#679e68","#f98b2a","#9dcb45","#c99cf2","#dedb72","#a8467f","#d5fba2","#f872ef","#4953a3","#2bb0a9","#e6da3a","#6466f6","#4cb35c","#c9a0f7","#d5fc79"]}, "legend": null}
 }},
{"data": {"name": "syms"}, "transform": [{"filter": {"field": "row", "oneOf": ["02","03","08","11","14"]}}], "mark": {"type": "text", "font": "DejaVu Sans", "fontSize": 11, "color": "#ffffff"},
 "encoding": {
  "x": {"datum": "L", "type": "nominal", "scale": {"type": "band", "domain": ["L", "R"], "range": [0, 594], "paddingInner": 0.96875, "paddingOuter": 0}, "axis": null},
  "y": {"field": "row", "type": "nominal", "scale": {"type": "band", "domain": ["Day","CM","Notes","Test","I","OPK T/C","Prog.L.","Stats","Meds","01","02","03","04","05","06","07","08","09","10","11","12","13","14","15","16","17"], "range": [364, 832], "paddingInner": 0, "paddingOuter": 0}, "axis": null},
  "text": {"field": "row"}
 }},
{"data": {"name": "syms"}, "transform": [{"filter": {"not": {"field": "row", "oneOf": ["02","03","08","11","14"]}}}], "mark": {"type": "text", "font": "DejaVu Sans", "fontSize": 11, "color": "#33334a"},
 "encoding": {
  "x": {"datum": "L", "type": "nominal", "scale": {"type": "band", "domain": ["L", "R"], "range": [0, 594], "paddingInner": 0.96875, "paddingOuter": 0}, "axis": null},
  "y": {"field": "row", "type": "nominal", "scale": {"type": "band", "domain": ["Day","CM","Notes","Test","I","OPK T/C","Prog.L.","Stats","Meds","01","02","03","04","05","06","07","08","09","10","11","12","13","14","15","16","17"], "range": [364, 832], "paddingInner": 0, "paddingOuter": 0}, "axis": null},
  "text": {"field": "row"}
 }},
{"data": {"name": "syms"}, "transform": [{"filter": {"field": "row", "oneOf": ["02","03","08","11","14"]}}], "mark": {"type": "text", "font": "DejaVu Sans", "fontSize": 11, "color": "#ffffff"},
 "encoding": {
  "x": {"datum": "R", "type": "nominal", "scale": {"type": "band", "domain": ["L", "R"], "range": [0, 594], "paddingInner": 0.96875, "paddingOuter": 0}, "axis": null},
  "y": {"field": "row", "type": "nominal", "scale": {"type": "band", "domain": ["Day","CM","Notes","Test","I","OPK T/C","Prog.L.","Stats","Meds","01","02","03","04","05","06","07","08","09","10","11","12","13","14","15","16","17"], "range": [364, 832], "paddingInner": 0, "paddingOuter": 0}, "axis": null},
  "text": {"field": "row"}
 }},
{"data": {"name": "syms"}, "transform": [{"filter": {"not": {"field": "row", "oneOf": ["02","03","08","11","14"]}}}], "mark": {"type": "text", "font": "DejaVu Sans", "fontSize": 11, "color": "#33334a"},
 "encoding": {
  "x": {"datum": "R", "type": "nominal", "scale": {"type": "band", "domain": ["L", "R"], "range": [0, 594], "paddingInner": 0.96875, "paddingOuter": 0}, "axis": null},
  "y": {"field": "row", "type": "nominal", "scale": {"type": "band", "domain": ["Day","CM","Notes","Test","I","OPK T/C","Prog.L.","Stats","Meds","01","02","03","04","05","06","07","08","09","10","11","12","13","14","15","16","17"], "range": [364, 832], "paddingInner": 0, "paddingOuter": 0}, "axis": null},
  "text": {"field": "row"}
 }}
]
}
],
"resolve": {"scale": {"x": "independent", "fill": "independent"}, "axis": {"x": "independent", "y": "independent"}, "legend": {"fill": "independent"}}
}
],
"resolve": {"scale": {"x": "independent", "y": "independent", "fill": "independent", "color": "independent"}, "axis": {"x": "independent", "y": "independent"}, "legend": {"fill": "independent", "color": "independent"}}
}
